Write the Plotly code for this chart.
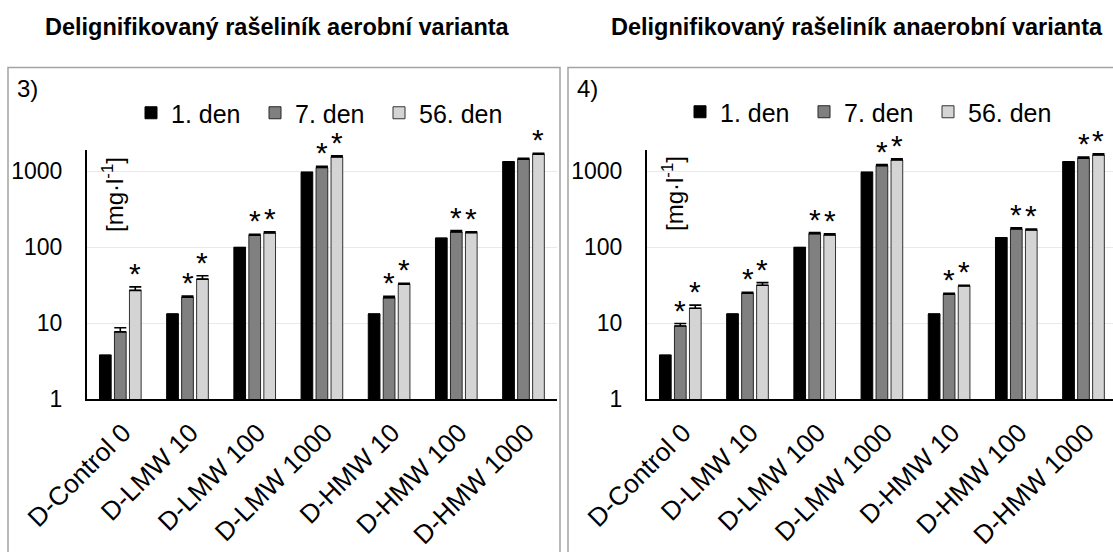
import math
import plotly.graph_objects as go

# ---- data -------------------------------------------------------------
categories = ["D-Control 0", "D-LMW 10", "D-LMW 100", "D-LMW 1000",
              "D-HMW 10", "D-HMW 100", "D-HMW 1000"]
series_names = ["1. den", "7. den", "56. den"]

# aerobic variant [mg/l]
aer_d1 = [3.8, 13.2, 99, 960, 13.2, 131, 1320]
aer_d7 = [7.7, 22.0, 143, 1110, 21.6, 158, 1430]
aer_d56 = [27.0, 38.0, 154, 1530, 32.5, 155, 1660]
aer_d1_err = [0, 0, 0, 0, 0, 0, 0]
aer_d7_err = [1.0, 0.8, 4, 40, 1.0, 7, 40]
aer_d56_err = [3.0, 4.0, 5, 50, 1.0, 4, 50]
aer_sig_d7 = [0, 1, 1, 1, 1, 1, 0]
aer_sig_d56 = [1, 1, 1, 1, 1, 1, 1]

# anaerobic variant [mg/l]
ana_d1 = [3.8, 13.2, 99, 960, 13.2, 133, 1320]
ana_d7 = [9.2, 24.7, 150, 1175, 24.0, 173, 1470]
ana_d56 = [15.7, 31.5, 144, 1400, 30.8, 168, 1620]
ana_d1_err = [0, 0, 0, 0, 0, 0, 0]
ana_d7_err = [0.7, 0.8, 5, 40, 0.8, 6, 50]
ana_d56_err = [1.6, 2.6, 6, 50, 0.8, 5, 60]
ana_sig_d7 = [1, 1, 1, 1, 1, 1, 1]
ana_sig_d56 = [1, 1, 1, 1, 1, 1, 1]

y_ticks = [1, 10, 100, 1000]
y_tick_labels = ["1", "10", "100", "1000"]

# ---- styling ----------------------------------------------------------
W, H = 1113, 552
FONT = "Arial, 'Liberation Sans', sans-serif"
fills = ["#000000", "#808080", "#d4d4d4"]
edges = ["#000000", "#262626", "#333333"]
offsets = [-0.223, 0.0, 0.223]
bar_w = 0.174
CAT_PX = 67.2  # pixel width of one category slot


def px(x):
    return x / W


def py(y):
    return 1 - y / H


fig = go.Figure()

panels = [
    dict(xa="x", ya="y", legend="legend",
         vals=[aer_d1, aer_d7, aer_d56],
         errs=[aer_d1_err, aer_d7_err, aer_d56_err],
         sig=[None, aer_sig_d7, aer_sig_d56]),
    dict(xa="x2", ya="y2", legend="legend2",
         vals=[ana_d1, ana_d7, ana_d56],
         errs=[ana_d1_err, ana_d7_err, ana_d56_err],
         sig=[None, ana_sig_d7, ana_sig_d56]),
]

for p in panels:
    for j, name in enumerate(series_names):
        xs = [i + offsets[j] for i in range(len(categories))]
        fig.add_trace(go.Bar(
            x=xs, y=p["vals"][j], width=bar_w, name=name,
            xaxis=p["xa"], yaxis=p["ya"], legend=p["legend"],
            marker=dict(color=fills[j], line=dict(color=edges[j], width=1)),
            error_y=dict(type="data", symmetric=False, array=p["errs"][j],
                         arrayminus=[0] * len(categories),
                         color="#000000", thickness=1.6, width=6,
                         visible=True),
        ))
    # significance stars above the error bars
    for j in (1, 2):
        for i, f in enumerate(p["sig"][j]):
            if not f:
                continue
            top = p["vals"][j][i] + p["errs"][j][i]
            fig.add_annotation(
                x=i + offsets[j], y=math.log10(top),
                xref=p["xa"], yref=p["ya"], text="*", showarrow=False,
                xanchor="center", yanchor="bottom", yshift=-5,
                font=dict(family=FONT, size=30, color="#000000"),
            )

x_common = dict(
    tickmode="array", tickvals=list(range(len(categories))),
    ticktext=categories, tickangle=-45,
    tickfont=dict(family=FONT, size=26, color="#000000"),
    ticks="outside", ticklen=6, tickcolor="rgba(0,0,0,0)",
    ticklabelshift=3,
    showline=True, linecolor="#000000", linewidth=1.5,
    showgrid=False, zeroline=False, fixedrange=True, automargin=False,
)
y_common = dict(
    type="log", range=[0, 3.276],
    domain=[py(399.3), py(150)],
    tickmode="array", tickvals=y_ticks, ticktext=y_tick_labels,
    tickfont=dict(family=FONT, size=23, color="#000000"),
    ticks="outside", ticklen=18, tickcolor="rgba(0,0,0,0)",
    showline=True, linecolor="#000000", linewidth=1.5,
    showgrid=True, gridcolor="#e9e9e9", gridwidth=1.2,
    zeroline=False, fixedrange=True, automargin=False,
)

legend_common = dict(
    orientation="h", yanchor="middle", xanchor="left",
    font=dict(family=FONT, size=25, color="#000000"),
    entrywidth=79, entrywidthmode="pixels", itemwidth=30,
    bgcolor="rgba(0,0,0,0)", borderwidth=0, traceorder="normal",
    itemclick=False, itemdoubleclick=False,
)

fig.update_layout(
    width=W, height=H,
    margin=dict(l=0, r=0, t=0, b=0, autoexpand=False),
    paper_bgcolor="#ffffff", plot_bgcolor="rgba(0,0,0,0)",
    barmode="overlay", showlegend=True,
    xaxis=dict(domain=[px(86.7), px(86.7 + 7 * CAT_PX)],
               range=[-0.5, 6.5], anchor="y", **x_common),
    yaxis=dict(anchor="x", **y_common),
    xaxis2=dict(domain=[px(646.7), 1.0],
                range=[-0.5, -0.5 + (W - 646.7) / CAT_PX], anchor="y2",
                **x_common),
    yaxis2=dict(anchor="x2", **y_common),
    legend=dict(x=px(131), y=py(113), **legend_common),
    legend2=dict(x=px(680), y=py(112), **legend_common),
)

# panel frames
frame = dict(type="rect", xref="paper", yref="paper",
             line=dict(color="#a3a3a3", width=1.5), fillcolor="rgba(0,0,0,0)",
             layer="below")
fig.add_shape(x0=px(8), x1=px(560), y0=py(600), y1=py(67.5), **frame)
fig.add_shape(x0=px(568), x1=px(1130), y0=py(600), y1=py(67.5), **frame)

# titles, panel tags, y-axis unit labels
fig.add_annotation(text="<b>Delignifikovaný rašeliník aerobní varianta</b>",
                   x=px(277), y=py(27), xref="paper", yref="paper",
                   showarrow=False, xanchor="center", yanchor="middle",
                   font=dict(family=FONT, size=23.5, color="#000000"))
fig.add_annotation(text="<b>Delignifikovaný rašeliník anaerobní varianta</b>",
                   x=px(857), y=py(27), xref="paper", yref="paper",
                   showarrow=False, xanchor="center", yanchor="middle",
                   font=dict(family=FONT, size=23.5, color="#000000"))
for tag, x0 in (("3)", 15), ("4)", 575)):
    fig.add_annotation(text=tag, x=px(x0), y=py(89), xref="paper",
                       yref="paper", showarrow=False, xanchor="left",
                       yanchor="middle",
                       font=dict(family=FONT, size=24, color="#000000"))
for x0 in (113, 673):
    fig.add_annotation(text="[mg·l<sup>-1</sup>]", x=px(x0), y=py(194),
                       xref="paper", yref="paper", showarrow=False,
                       textangle=-90, xanchor="center", yanchor="middle",
                       font=dict(family=FONT, size=24, color="#000000"))

fig.write_html("out.html")
